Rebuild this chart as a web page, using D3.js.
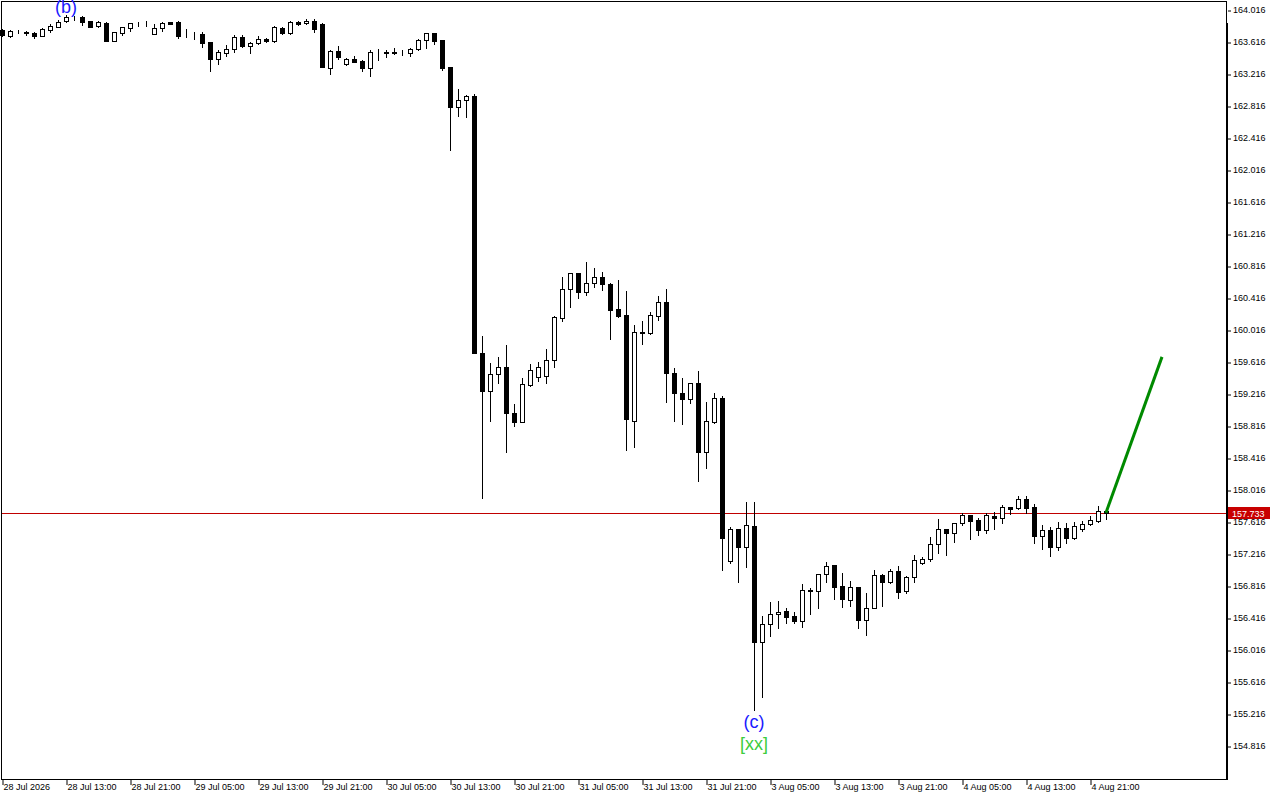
<!DOCTYPE html>
<html>
<head>
<meta charset="utf-8">
<script src="https://cdn.jsdelivr.net/npm/d3@7"></script>
<style>
	html, body { margin: 0; padding: 0; background: #fff; }
	svg { display: block; }
	.axis text { font-family: "Liberation Sans", Arial, sans-serif; font-size: 9px; fill: #000; }
	.axis line { stroke: #000; }
	.axis path { display: none; }
</style>
</head>
<body>
<svg id="chart" width="1280" height="800"></svg>
<script>
/* Hourly candles, 28 Jul 05:00 .. 4 Aug 23:00 (weekend skipped) */

var opens = [
	163.766, 163.695, 163.747, 163.735, 163.732, 163.695, 163.766, 163.807, 163.875, 163.932,
	163.932, 163.879, 163.812, 163.857, 163.632, 163.732, 163.795, 163.850, 163.848, 163.712,
	163.787, 163.862, 163.870, 163.714, 163.711, 163.716, 163.620, 163.404, 163.475, 163.525,
	163.682, 163.566, 163.600, 163.650, 163.632, 163.787, 163.732, 163.870, 163.850, 163.882,
	163.841, 163.295, 163.504, 163.337, 163.404, 163.379, 163.295, 163.485, 163.487, 163.487,
	163.485, 163.482, 163.525, 163.641, 163.725, 163.641, 163.300, 162.807, 162.891, 162.945,
	159.725, 159.257, 159.462, 159.550, 158.975, 158.870, 159.329, 159.425, 159.445, 159.641,
	160.162, 160.525, 160.725, 160.495, 160.600, 160.675, 160.591, 160.275, 160.204, 158.882,
	159.995, 159.975, 160.195, 160.362, 159.475, 159.225, 159.150, 159.350, 158.487, 158.870,
	159.166, 157.129, 157.525, 157.300, 157.566, 156.112, 156.337, 156.462, 156.504, 156.441,
	156.379, 156.766, 156.754, 156.962, 157.079, 156.816, 156.641, 156.800, 156.391, 156.545,
	156.954, 156.870, 157.004, 156.757, 156.932, 157.100, 157.154, 157.337, 157.529, 157.482,
	157.600, 157.704, 157.641, 157.516, 157.691, 157.662, 157.800, 157.787, 157.900, 157.800,
	157.441, 157.516, 157.307, 157.537, 157.420, 157.533, 157.587, 157.632, 157.754
];
var highs = [
	163.779, 163.766, 163.766, 163.757, 163.741, 163.787, 163.841, 163.891, 163.954, 163.935,
	163.935, 163.880, 163.882, 163.862, 163.740, 163.803, 163.857, 163.870, 163.879, 163.841,
	163.870, 163.864, 163.879, 163.775, 163.745, 163.745, 163.622, 163.516, 163.579, 163.704,
	163.704, 163.620, 163.691, 163.670, 163.820, 163.807, 163.882, 163.882, 163.900, 163.900,
	163.854, 163.516, 163.566, 163.416, 163.441, 163.391, 163.516, 163.529, 163.516, 163.545,
	163.516, 163.545, 163.650, 163.729, 163.729, 163.645, 163.304, 163.025, 162.950, 162.966,
	159.941, 159.600, 159.675, 159.829, 159.091, 159.412, 159.587, 159.612, 159.779, 160.191,
	160.675, 160.729, 160.729, 160.862, 160.787, 160.737, 160.600, 160.641, 160.504, 160.079,
	160.129, 160.241, 160.441, 160.529, 159.537, 159.412, 159.354, 159.504, 159.112, 159.225,
	159.191, 157.550, 157.529, 157.862, 157.862, 156.441, 156.612, 156.629, 156.537, 156.487,
	156.837, 156.787, 156.966, 157.120, 157.082, 156.975, 156.882, 156.804, 156.725, 157.016,
	156.966, 157.029, 157.066, 156.945, 157.204, 157.175, 157.432, 157.654, 157.532, 157.604,
	157.725, 157.707, 157.662, 157.725, 157.745, 157.829, 157.804, 157.941, 157.941, 157.841,
	157.579, 157.557, 157.620, 157.607, 157.620, 157.629, 157.691, 157.816, 157.756
];
var lows = [
	163.691, 163.682, 163.725, 163.704, 163.662, 163.695, 163.745, 163.800, 163.862, 163.891,
	163.829, 163.803, 163.807, 163.630, 163.630, 163.704, 163.757, 163.816, 163.816, 163.710,
	163.757, 163.843, 163.662, 163.675, 163.650, 163.550, 163.257, 163.337, 163.441, 163.495,
	163.550, 163.475, 163.591, 163.620, 163.620, 163.716, 163.716, 163.829, 163.841, 163.741,
	163.300, 163.216, 163.404, 163.329, 163.366, 163.257, 163.191, 163.391, 163.432, 163.466,
	163.454, 163.445, 163.520, 163.545, 163.591, 163.266, 162.266, 162.691, 162.682, 159.725,
	157.920, 158.882, 159.357, 158.495, 158.820, 158.866, 159.320, 159.382, 159.357, 159.557,
	160.132, 160.307, 160.420, 160.454, 160.550, 160.516, 159.904, 160.182, 158.516, 158.557,
	159.841, 159.970, 160.141, 159.120, 158.882, 158.837, 159.107, 158.132, 158.295, 158.857,
	157.016, 157.107, 156.870, 157.050, 155.266, 155.425, 156.195, 156.287, 156.350, 156.350,
	156.300, 156.462, 156.545, 156.870, 156.650, 156.557, 156.570, 156.287, 156.204, 156.537,
	156.566, 156.857, 156.662, 156.732, 156.870, 157.095, 157.129, 157.232, 157.204, 157.370,
	157.579, 157.404, 157.454, 157.482, 157.529, 157.600, 157.712, 157.775, 157.732, 157.350,
	157.279, 157.195, 157.266, 157.357, 157.404, 157.507, 157.582, 157.620, 157.654
];
var closes = [
	163.704, 163.754, 163.737, 163.725, 163.695, 163.775, 163.816, 163.870, 163.932, 163.925,
	163.870, 163.807, 163.866, 163.632, 163.737, 163.800, 163.850, 163.848, 163.850, 163.787,
	163.850, 163.845, 163.695, 163.711, 163.714, 163.607, 163.404, 163.487, 163.525, 163.682,
	163.570, 163.600, 163.654, 163.632, 163.800, 163.725, 163.870, 163.841, 163.882, 163.779,
	163.307, 163.504, 163.432, 163.404, 163.370, 163.295, 163.487, 163.489, 163.475, 163.475,
	163.487, 163.525, 163.641, 163.725, 163.632, 163.295, 162.807, 162.891, 162.945, 159.732,
	159.257, 159.462, 159.550, 158.982, 158.870, 159.337, 159.516, 159.550, 159.641, 160.175,
	160.525, 160.725, 160.495, 160.600, 160.675, 160.587, 160.266, 160.195, 158.904, 159.987,
	159.975, 160.204, 160.362, 159.482, 159.225, 159.150, 159.350, 158.487, 158.882, 159.162,
	157.412, 157.525, 157.300, 157.579, 156.112, 156.337, 156.462, 156.495, 156.432, 156.379,
	156.766, 156.754, 156.962, 157.070, 156.807, 156.650, 156.800, 156.391, 156.537, 156.954,
	156.870, 157.004, 156.745, 156.932, 157.141, 157.154, 157.341, 157.525, 157.482, 157.600,
	157.704, 157.632, 157.516, 157.704, 157.662, 157.800, 157.782, 157.900, 157.795, 157.445,
	157.516, 157.307, 157.537, 157.420, 157.566, 157.591, 157.641, 157.754, 157.733
];

// time axis: bar index of each label and its text
var timeTickBars = [0, 8, 16, 24, 32, 40, 48, 56, 64, 72, 80, 88, 96, 104, 112, 120, 128, 136];
var timeTickLabels = [
	"28 Jul 2026", "28 Jul 13:00", "28 Jul 21:00", "29 Jul 05:00", "29 Jul 13:00", "29 Jul 21:00",
	"30 Jul 05:00", "30 Jul 13:00", "30 Jul 21:00", "31 Jul 05:00", "31 Jul 13:00", "31 Jul 21:00",
	"3 Aug 05:00", "3 Aug 13:00", "3 Aug 21:00", "4 Aug 05:00", "4 Aug 13:00", "4 Aug 21:00"
];
var priceTicks = [
	154.816, 155.216, 155.616, 156.016, 156.416, 156.816, 157.216, 157.616, 158.016, 158.416,
	158.816, 159.216, 159.616, 160.016, 160.416, 160.816, 161.216, 161.616, 162.016, 162.416,
	162.816, 163.216, 163.616, 164.016
];
var bidPrice = 157.733;

// wave marks: bar index, price the mark hangs off, text
var waveBars = [8, 94, 94];
var wavePrices = [163.954, 155.266, 155.266];
var waveTexts = ["(b)", "(c)", "[xx]"];

// forecast segment: from last close to target, in bars
var forecastBars = [138, 145];
var forecastPrices = [157.733, 159.680];

var plotLeft = 2, plotTop = 2, plotRight = 1226, plotBottom = 779;

var svg = d3.select("#chart");

// bar index -> pixel centre, 8 px per bar
var xScale = d3.scaleLinear().domain([0, 145]).range([2, 1162]);
var yScale = d3.scaleLinear().domain([154.816, 164.016]).range([746, 10]);

function px(v) { return Math.round(v) + 0.5; }

// frame
svg.append("rect")
	.attr("x", plotLeft - 0.5).attr("y", plotTop - 0.5)
	.attr("width", plotRight - plotLeft + 1).attr("height", plotBottom - plotTop + 1)
	.attr("fill", "none").attr("stroke", "#000").attr("stroke-width", 1);
svg.append("line")
	.attr("x1", plotRight + 1).attr("x2", plotRight + 1)
	.attr("y1", 23).attr("y2", plotBottom + 1)
	.attr("stroke", "#000").attr("stroke-width", 2);

var body = svg.append("g");

// current price line
var bidY = px(yScale(bidPrice));
body.append("line")
	.attr("x1", plotLeft).attr("x2", plotRight)
	.attr("y1", bidY).attr("y2", bidY)
	.attr("stroke", "#c00000").attr("stroke-width", 1);

// candles
var bars = d3.range(opens.length);
var candle = body.selectAll("g.candle")
	.data(bars)
	.enter()
		.append("g")
		.attr("class", "candle");
candle.append("line")
	.attr("x1", function(i) { return px(xScale(i)); })
	.attr("x2", function(i) { return px(xScale(i)); })
	.attr("y1", function(i) { return Math.round(yScale(highs[i])); })
	.attr("y2", function(i) { return Math.round(yScale(lows[i])) + 1; })
	.attr("stroke", "#000").attr("stroke-width", 1);
candle.append("rect")
	.attr("x", function(i) { return Math.round(xScale(i)) - 1.5; })
	.attr("y", function(i) { return px(yScale(Math.max(opens[i], closes[i]))); })
	.attr("width", 4)
	.attr("height", function(i) {
		return Math.round(yScale(Math.min(opens[i], closes[i]))) - Math.round(yScale(Math.max(opens[i], closes[i])));
	})
	.attr("fill", function(i) { return closes[i] < opens[i] ? "#000" : "#fff"; })
	.attr("stroke", "#000").attr("stroke-width", 1);

// forecast
var fLine = d3.line()
	.x(function(d) { return xScale(d); })
	.y(function(d, k) { return yScale(forecastPrices[k]); });
body.append("path")
	.datum(forecastBars)
	.attr("d", fLine)
	.attr("fill", "none")
	.attr("stroke", "#008a00")
	.attr("stroke-width", 3);

// wave labels
var waveColors = ["#1a1aff", "#1a1aff", "#3ccc3c"];
var waveOffsets = [-2, 18, 40];
waveBars.forEach(function(b, k) {
	body.append("text")
		.text(waveTexts[k])
		.attr("x", xScale(b))
		.attr("y", yScale(wavePrices[k]) + waveOffsets[k])
		.attr("text-anchor", "middle")
		.attr("font-family", "Liberation Sans, Arial, sans-serif")
		.attr("font-size", 18)
		.attr("fill", waveColors[k]);
});

// price axis
var yAxis = svg.append("g")
	.attr("class", "axis axis--y")
	.attr("transform", "translate(" + (plotRight + 2) + ",0)")
	.call(d3.axisRight(yScale).tickValues(priceTicks).tickSize(3).tickPadding(2)
		.tickFormat(d3.format(".3f")));
yAxis.selectAll(".tick line").attr("transform", "translate(0,0.5)");

// bid label
svg.append("rect")
	.attr("x", plotRight + 2).attr("y", bidY - 6.5)
	.attr("width", 42).attr("height", 12)
	.attr("fill", "#c80000");
svg.append("text")
	.text(d3.format(".3f")(bidPrice))
	.attr("x", plotRight + 6).attr("y", bidY + 3.5)
	.attr("font-family", "Liberation Sans, Arial, sans-serif")
	.attr("font-size", 9)
	.attr("fill", "#fff");

// time axis
var xAxis = svg.append("g")
	.attr("class", "axis axis--x")
	.attr("transform", "translate(0," + (plotBottom + 1) + ")")
	.call(d3.axisBottom(xScale).tickValues(timeTickBars).tickSize(5)
		.tickFormat(function(d, k) { return timeTickLabels[k]; }));
xAxis.selectAll(".tick line").attr("transform", "translate(0.5,0)");
xAxis.selectAll(".tick text")
	.attr("text-anchor", "start")
	.attr("x", 1)
	.attr("y", 4)
	.attr("dy", "0.71em");
</script>
</body>
</html>
